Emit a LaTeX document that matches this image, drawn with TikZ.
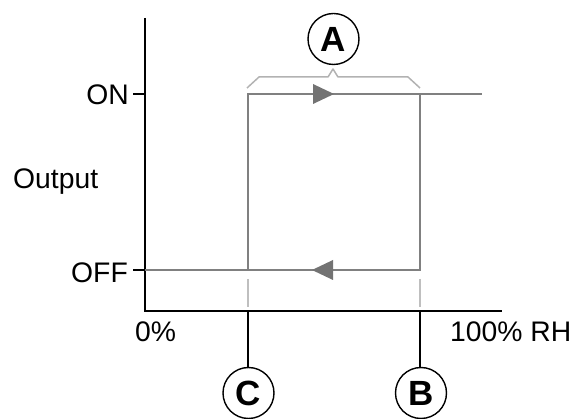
\documentclass[tikz,border=0pt]{standalone}
\usepackage{fontspec}
\setmainfont{Liberation Sans}
\begin{document}
\begin{tikzpicture}[x=1pt,y=-1pt,
  axisline/.style={black,line width=1.8pt},
  loopline/.style={draw=black!50,line width=1.8pt},
  guide/.style={draw=black!25,line width=1.6pt},
  bracket/.style={draw=black!30,line width=1.5pt,line join=round},
  flowtip/.style={fill=black!55,draw=none},
  lbl/.style={inner sep=0pt,font=\fontsize{28.3}{30}\selectfont},
  marker/.style={circle,draw=black,line width=1.4pt,minimum size=51pt,inner sep=0pt,
                 font=\fontsize{35}{37}\selectfont\bfseries}]
\useasboundingbox (0,0) rectangle (582,419);

% axes
\coordinate (ytop) at (145,18);
\coordinate (orig) at (145,311);
\coordinate (xend) at (502,311);
\draw[axisline] (ytop) -- (orig) -- (xend);

% output level ticks
\coordinate (onL) at (133,94);
\coordinate (onR) at (145,94);
\coordinate (offL) at (133,270);
\coordinate (offR) at (145,270);
\draw[axisline,line width=1.3pt] (onL) -- (onR);
\draw[axisline,line width=1.3pt] (offL) -- (offR);

% hysteresis loop
\coordinate (cOff) at (248,270);
\coordinate (cOn) at (248,94);
\coordinate (bOn) at (420,94);
\coordinate (bOff) at (420,270);
\coordinate (onEnd) at (482,94);
\draw[loopline] (offR) -- (bOff) -- (bOn);
\draw[loopline] (cOff) -- (cOn) -- (onEnd);

% direction arrows
\fill[flowtip] (313,84) -- (334,94) -- (313,104) -- cycle;
\fill[flowtip] (333,260) -- (312,270) -- (333,280) -- cycle;

% dashed guides from the switching points
\coordinate (cg1) at (248,279);
\coordinate (cg2) at (248,307);
\coordinate (bg1) at (420,279);
\coordinate (bg2) at (420,307);
\draw[guide] (cg1) -- (cg2);
\draw[guide] (bg1) -- (bg2);

% bracket over the differential
\draw[bracket] (247,88) -- (259,77) -- (328,77) -- (333,69) -- (338,77) -- (408,77) -- (420,88);

% markers
\node[marker] (A) at (333.5,39) {A};
\node[marker] (C) at (248.5,393) {C};
\node[marker] (B) at (421,393) {B};
\coordinate (cAx) at (248,311);
\coordinate (bAx) at (420,311);
\draw[axisline,line width=1.6pt] (cAx) -- (cAx |- C.north);
\draw[axisline,line width=1.6pt] (bAx) -- (bAx |- B.north);

% labels
\node[lbl,anchor=base east] (on) at (129,105) {ON};
\node[lbl,anchor=base west] (out) at (13,189) {Output};
\node[lbl,anchor=base east] (off) at (128,283) {OFF};
\node[lbl,anchor=base west] (zero) at (135,342) {0\%};
\node[lbl,anchor=base west] (full) at (450,342) {100\% RH};
\end{tikzpicture}
\end{document}
